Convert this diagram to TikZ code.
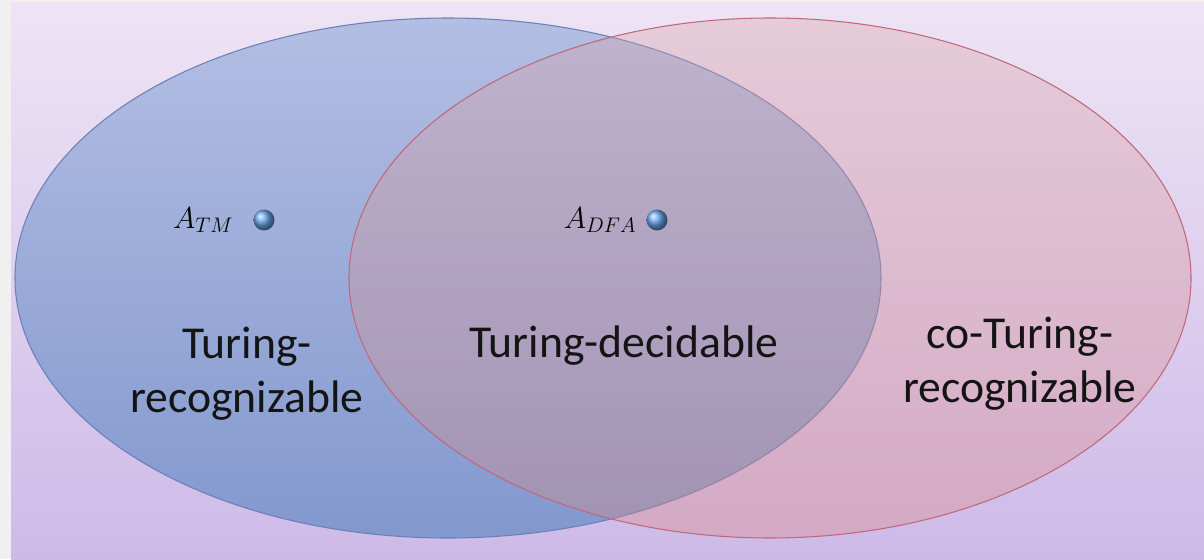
\documentclass[tikz,border=0pt]{standalone}
\usepackage{fontspec}
\setmainfont{Carlito}
\usepackage{amsmath}
\usetikzlibrary{positioning}

\definecolor{bgtop}{RGB}{238,228,245}
\definecolor{bgbot}{RGB}{206,186,232}
\definecolor{bluetop}{RGB}{179,190,227}
\definecolor{bluebot}{RGB}{130,152,206}
\definecolor{blueline}{RGB}{108,128,184}
\definecolor{redtop}{RGB}{217,161,166}
\definecolor{redbot}{RGB}{220,136,130}
\definecolor{redline}{RGB}{192,104,122}
\definecolor{dotblue}{RGB}{105,165,235}

\begin{document}
\begin{tikzpicture}[
            x = 0.02cm, y = 0.02cm, % one unit is one pixel
            semithick % line style
        ]

        \tikzstyle{setname}=[
            font = \fontsize{26}{30.6}\selectfont,
            align = center,
            text = black!92
        ]
        \tikzstyle{member}=[
            circle,
            inner sep = 0pt,
            minimum size = 0.42cm,
            shading = ball,
            ball color = dotblue
        ]
        \tikzstyle{memlabel}=[
            font = \fontsize{17}{20}\selectfont,
            inner sep = 0pt
        ]

        % background
        \useasboundingbox (0,0) rectangle (1204,559);
        \fill[black!6] (0,0) rectangle (1204,559);
        \shade[top color=bgtop, bottom color=bgbot] (11,0) rectangle (1204,556);

        % the two sets
        \shade[top color=bluetop, bottom color=bluebot] (448,281) ellipse [x radius=433, y radius=260];
        \draw[blueline, line width=0.6pt] (448,281) ellipse [x radius=433, y radius=260];
        \shade[top color=redtop, bottom color=redbot, fill opacity=0.35] (770,281) ellipse [x radius=421, y radius=260];
        \draw[redline, line width=0.6pt] (770,281) ellipse [x radius=421, y radius=260];

        \node[setname] (rec) at (247,185) {Turing-\\recognizable};
        \node[setname, anchor=base] (dec) at (624,202) {Turing-decidable};
        \node[setname] (corec) at (1020,195) {co-Turing-\\recognizable};

        % members
        \node[member] (tm) at (264,339) {};
        \node[memlabel, left=0.38cm of tm] (tmlabel) {$A_{TM}$};
        \node[member] (dfa) at (657,339) {};
        \node[memlabel, left=0.18cm of dfa] (dfalabel) {$A_{DFA}$};

    \end{tikzpicture}
\end{document}
